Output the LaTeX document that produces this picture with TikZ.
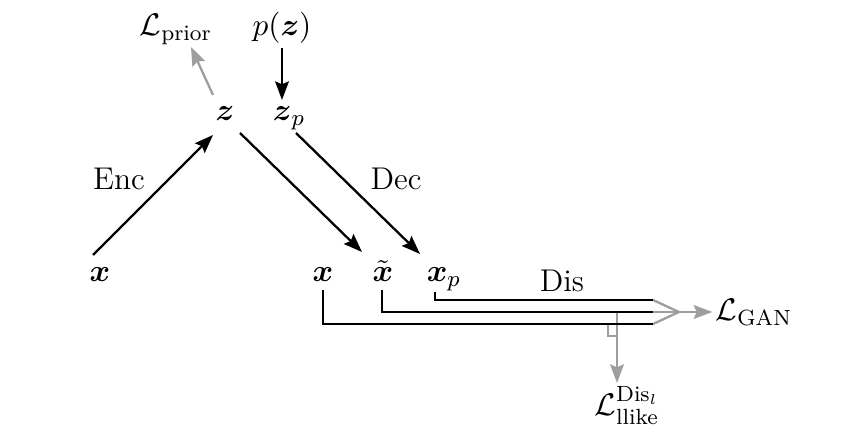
\documentclass[tikz,border=0pt]{standalone}
\usepackage{amsmath, amssymb}
\usepackage{tikz}
\usetikzlibrary{arrows.meta, calc}

\begin{document}
\begin{tikzpicture}[
    x=0.35pt, y=-0.35pt,
    every node/.style={font=\fontsize{11}{13.6}\selectfont},
    lbl/.style={anchor=base, inner sep=1pt},
    arrow/.style={-{Stealth[length=6.5pt, width=4.8pt, inset=1pt]}, line width=0.8pt},
    garrow/.style={arrow, draw=black!38, fill=black!38},
    gline/.style={line width=0.8pt, draw=black!38},
    line/.style={line width=0.8pt}
]
    \useasboundingbox (0,0) rectangle (846,443);

    % Latent side
    \node[lbl] (lprior) at (176,36) {$\mathcal{L}_{\text{prior}}$};
    \node[lbl] (pz) at (282,36) {$p(\boldsymbol{z})$};
    \node[lbl] (z) at (225,121) {$\boldsymbol{z}$};
    \node[lbl] (zp) at (289,121) {$\boldsymbol{z}_p$};

    % Data side
    \node[lbl] (xin) at (100,282) {$\boldsymbol{x}$};
    \node[lbl] (xreal) at (323,282) {$\boldsymbol{x}$};
    \node[lbl] (xrec) at (383,282) {$\tilde{\boldsymbol{x}}$};
    \node[lbl] (xgen) at (444,282) {$\boldsymbol{x}_p$};

    \node[lbl] (enc) at (119,190) {Enc};
    \node[lbl] (dec) at (396,190) {Dec};
    \node[lbl] (dis) at (562,292) {Dis};
    \node[lbl] (lgan) at (754,321) {$\mathcal{L}_{\text{GAN}}$};
    \node[inner sep=1pt, anchor=north] (lllike) at (627,383) {$\mathcal{L}_{\text{llike}}^{\text{Dis}_l}$};

    \draw[arrow] ([shift={(-7,-27)}]xin.base) -- ([shift={(-12,14)}]z.base);
    \draw[arrow] ([shift={(15,12)}]z.base) -- ([shift={(-21,-30)}]xrec.base);
    \draw[arrow] ([shift={(7,12)}]zp.base) -- ([shift={(-24,-28)}]xgen.base);
    \draw[arrow] ([shift={(0,12)}]pz.base) -- ([shift={(-7,-21)}]zp.base);
    \draw[garrow] ([shift={(-12,-26)}]z.base) -- ([shift={(15,11)}]lprior.base);

    % Discriminator
    \coordinate (da) at (653,300);
    \coordinate (db) at (653,312);
    \coordinate (dc) at (653,324);
    \coordinate (tip) at (679,312);
    \coordinate (dl) at (617,312);

    \draw[gline] (da) -- (tip) -- (dc);
    \draw[gline] (db) -- (tip);
    \draw[garrow] (tip) -- (tip -| lgan.west);
    \draw[garrow] (dl) -- (dl |- lllike.north);
    \draw[gline] ([shift={(0,24)}]dl) -| ([shift={(-9,12)}]dl);

    \draw[line] ([shift={(-9,10)}]xgen.base) |- (da);
    \draw[line] ([shift={(-1,8)}]xrec.base) |- (db);
    \draw[line] ([shift={(0,8)}]xreal.base) |- (dc);
\end{tikzpicture}
\end{document}
